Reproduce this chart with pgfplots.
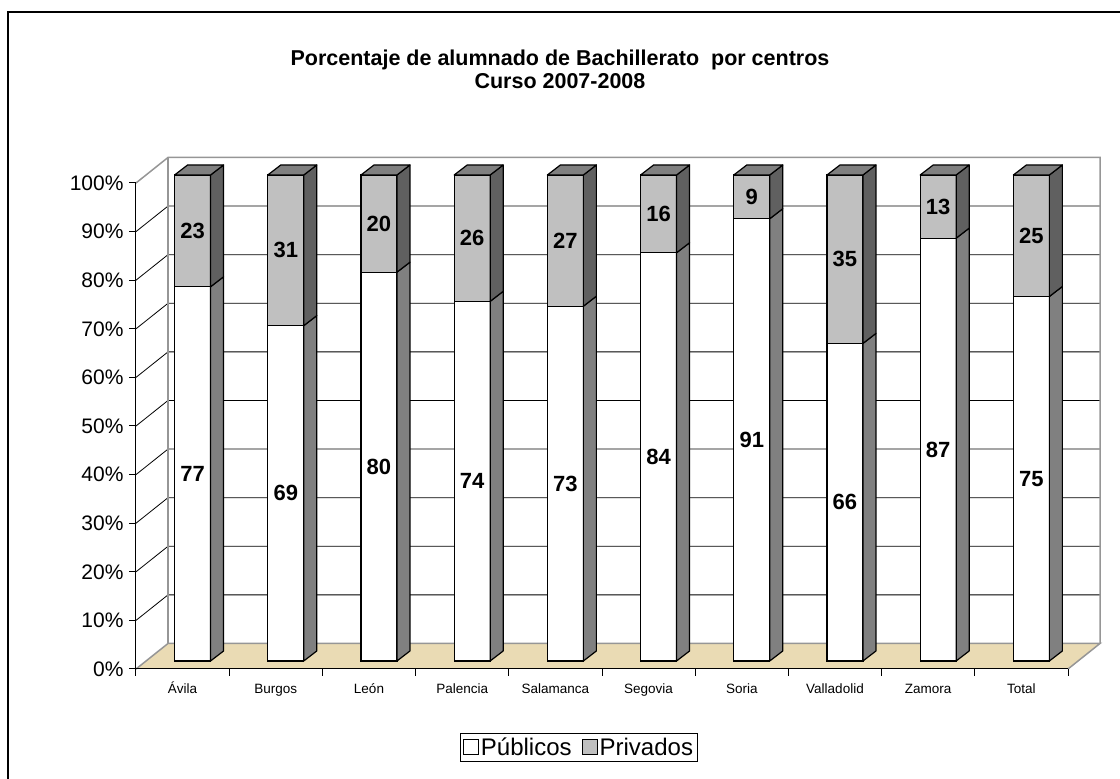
\documentclass[border=0pt]{standalone}
\usepackage{pgfplots}
\usepackage{pgfplotstable}
\pgfplotsset{compat=1.18}
\usepackage{fontspec}
\setmainfont{Liberation Sans}
\definecolor{frontG}{RGB}{192,192,192}
\definecolor{sideW}{RGB}{128,128,128}
\definecolor{sideG}{RGB}{96,96,96}
\definecolor{topG}{RGB}{128,128,128}
\definecolor{floorC}{RGB}{234,219,180}
\definecolor{wallL}{RGB}{150,150,150}

\pgfplotstableread{
idx pub priv
0 77 23
1 69 31
2 80 20
3 74 26
4 73 27
5 84 16
6 91 9
7 66 35
8 87 13
9 75 25
}\datatable

\def\BW{0.386}
\def\BS{0.107}
\def\DDX{0.1395}
\def\DDY{2.06}

\begin{document}
\begin{tikzpicture}
\useasboundingbox (-136pt,-110pt) rectangle (984pt,669pt);
\draw[line width=1.3pt] (-128pt,-130pt) -- (-128pt,657pt) -- (1000pt,657pt);
\node[font=\bfseries\fontsize{21.5}{23}\selectfont, align=center] at (424pt,600pt)
  {Porcentaje de alumnado de Bachillerato\ \ por centros\\Curso 2007-2008};
\begin{axis}[
  at={(0pt,0pt)}, anchor=south west,
  scale only axis, width=932pt, height=486pt,
  xmin=0, xmax=10, ymin=-1.646, ymax=98.354,
  clip=false, axis on top=true,
  axis lines=left, axis line style={-, line width=1pt, black},
  every outer x axis line/.append style={-},
  every outer y axis line/.append style={-},
  tick align=outside,
  xtick={0.5,1.5,...,9.5},
  xticklabels={Ávila,Burgos,León,Palencia,Salamanca,Segovia,Soria,Valladolid,Zamora,Total},
  minor xtick={0,1,...,10},
  major x tick style={draw=none},
  minor x tick style={black, line width=1pt},
  minor tick length=7pt,
  ytick={-1.646,8.354,18.354,28.354,38.354,48.354,58.354,68.354,78.354,88.354,98.354},
  yticklabels={0\%,10\%,20\%,30\%,40\%,50\%,60\%,70\%,80\%,90\%,100\%},
  y tick style={black, line width=1pt},
  major tick length=7pt,
  x tick label style={font=\fontsize{13.5}{15}\selectfont, anchor=north, text height=12pt, text depth=3pt, yshift=-2pt},
  y tick label style={font=\fontsize{21}{24}\selectfont, xshift=-2pt},
  legend style={at={(axis description cs:0.4753,-0.1615)}, anchor=center,
    legend columns=2, draw=black, line width=1pt,
    font=\fontsize{24}{27}\selectfont, inner sep=2pt,
    /tikz/every even column/.append style={column sep=8pt}},
  legend image code/.code={\draw[#1, line width=1pt] (0pt,-7pt) rectangle (15pt,8pt);},
]
% floor
\fill[floorC] (axis cs:0,-1.646) -- (axis cs:10,-1.646) -- (axis cs:10.3433,3.604) -- (axis cs:0.3433,3.604) -- cycle;
\draw[wallL, line width=1.5pt] (axis cs:0,-1.646) -- (axis cs:0.3433,3.604) -- (axis cs:10.3433,3.604) -- (axis cs:10,-1.646);
% gridlines
\draw[black, line width=0.8pt] (axis cs:0,8.354) -- (axis cs:0.3433,13.604) -- (axis cs:10.3433,13.604);
\draw[black, line width=0.8pt] (axis cs:0,18.354) -- (axis cs:0.3433,23.604) -- (axis cs:10.3433,23.604);
\draw[black, line width=0.8pt] (axis cs:0,28.354) -- (axis cs:0.3433,33.604) -- (axis cs:10.3433,33.604);
\draw[black, line width=0.8pt] (axis cs:0,38.354) -- (axis cs:0.3433,43.604) -- (axis cs:10.3433,43.604);
\draw[black, line width=0.8pt] (axis cs:0,48.354) -- (axis cs:0.3433,53.604) -- (axis cs:10.3433,53.604);
\draw[black, line width=0.8pt] (axis cs:0,58.354) -- (axis cs:0.3433,63.604) -- (axis cs:10.3433,63.604);
\draw[black, line width=0.8pt] (axis cs:0,68.354) -- (axis cs:0.3433,73.604) -- (axis cs:10.3433,73.604);
\draw[black, line width=0.8pt] (axis cs:0,78.354) -- (axis cs:0.3433,83.604) -- (axis cs:10.3433,83.604);
\draw[black, line width=0.8pt] (axis cs:0,88.354) -- (axis cs:0.3433,93.604) -- (axis cs:10.3433,93.604);
% walls
\draw[wallL, line width=1.5pt] (axis cs:0,98.354) -- (axis cs:0.3433,103.604) -- (axis cs:10.3433,103.604) -- (axis cs:10.3433,3.604);
\draw[wallL, line width=1.5pt] (axis cs:0.3433,3.604) -- (axis cs:0.3433,103.604);

% front faces
\addplot[ybar, bar width=\BW, bar shift=\BS, fill=frontG, draw=black, line width=1.2pt, forget plot]
  table[x expr=\thisrow{idx}+0.5, y expr={100*(\thisrow{pub}+\thisrow{priv})/(\thisrow{pub}+\thisrow{priv})}]{\datatable};
\addplot[ybar, bar width=\BW, bar shift=\BS, fill=white, draw=black, line width=1.2pt, forget plot]
  table[x expr=\thisrow{idx}+0.5, y expr={100*\thisrow{pub}/(\thisrow{pub}+\thisrow{priv})}]{\datatable};

% side and top faces
\pgfplotsinvokeforeach{0,...,9}{
  \pgfplotstablegetelem{#1}{pub}\of\datatable \let\vPub\pgfplotsretval
  \pgfplotstablegetelem{#1}{priv}\of\datatable \let\vPriv\pgfplotsretval
  \pgfmathsetmacro\vP{100*\vPub/(\vPub+\vPriv)}
  \pgfmathsetmacro\vL{#1+0.5+\BS-0.5*\BW}
  \pgfmathsetmacro\vR{#1+0.5+\BS+0.5*\BW}
  \pgfmathsetmacro\vRR{\vR+\DDX}
  \pgfmathsetmacro\vLL{\vL+\DDX}
  \pgfmathsetmacro\vPP{\vP+\DDY}
  \pgfmathsetmacro\vT{100+\DDY}
  \edef\doit{%
    \noexpand\addplot[fill=sideW, draw=black, line width=1.2pt, line join=round, forget plot] coordinates {(\vR,0) (\vRR,\DDY) (\vRR,\vPP) (\vR,\vP)} -- cycle;
    \noexpand\addplot[fill=sideG, draw=black, line width=1.2pt, line join=round, forget plot] coordinates {(\vR,\vP) (\vRR,\vPP) (\vRR,\vT) (\vR,100)} -- cycle;
    \noexpand\addplot[fill=topG, draw=black, line width=1.2pt, line join=round, forget plot] coordinates {(\vL,100) (\vR,100) (\vRR,\vT) (\vLL,\vT)} -- cycle;
  }\doit
}

% data labels
\addplot[draw=none, mark=none, forget plot, nodes near coords, point meta=explicit symbolic,
  nodes near coords align=center,
  every node near coord/.append style={font=\bfseries\fontsize{22}{24}\selectfont, anchor=center, text=black}]
  table[x expr=\thisrow{idx}+0.5+\BS, y expr={50*\thisrow{pub}/(\thisrow{pub}+\thisrow{priv})}, meta=pub]{\datatable};
\addplot[draw=none, mark=none, forget plot, nodes near coords, point meta=explicit symbolic,
  nodes near coords align=center,
  every node near coord/.append style={font=\bfseries\fontsize{22}{24}\selectfont, anchor=center, text=black}]
  table[x expr=\thisrow{idx}+0.5+\BS, y expr={100*\thisrow{pub}/(\thisrow{pub}+\thisrow{priv})+50*\thisrow{priv}/(\thisrow{pub}+\thisrow{priv})}, meta=priv]{\datatable};

\addlegendimage{fill=white, draw=black}
\addlegendentry{Públicos}
\addlegendimage{fill=frontG, draw=black}
\addlegendentry{Privados}
\end{axis}
\end{tikzpicture}
\end{document}
